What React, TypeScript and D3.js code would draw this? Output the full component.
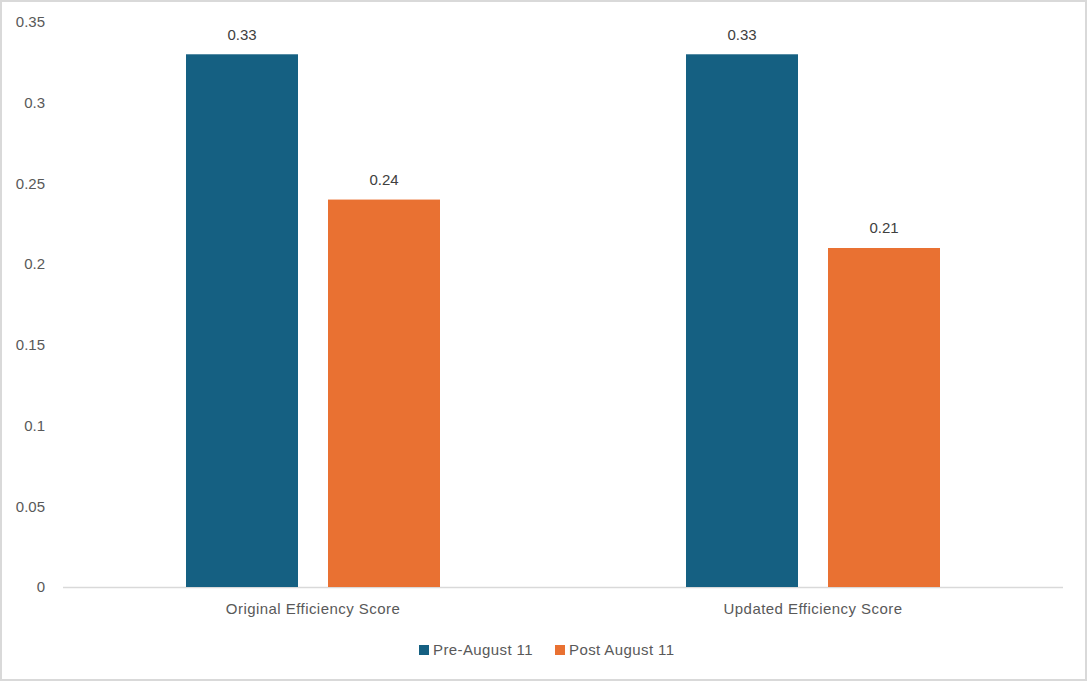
import React from "react";
import * as d3 from "d3";

const categories = ["Original Efficiency Score", "Updated Efficiency Score"];
const seriesNames = ["Pre-August 11", "Post August 11"];
const preValues = [0.33, 0.33];
const postValues = [0.24, 0.21];
const yTicks = [0, 0.05, 0.1, 0.15, 0.2, 0.25, 0.3, 0.35];
const colors = ["#156082", "#E97132"];

const W = 1088;
const H = 682;
const FONT = "'Liberation Sans', Arial, sans-serif";

export default function App() {
  const x = d3.scaleBand().domain(categories).range([63, 1063]).paddingInner(0).paddingOuter(0);
  const groupW = 254;
  const groupInset = (x.bandwidth() - groupW) / 2;
  const innerScale = d3
    .scaleBand()
    .domain(seriesNames)
    .range([groupInset, groupInset + groupW])
    .paddingInner(30 / 142)
    .paddingOuter(0);
  const y = d3.scaleLinear().domain([0, 0.35]).range([587, 22]);
  const series = [preValues, postValues];

  return (
    <svg width={W} height={H} style={{ position: "fixed", left: 0, top: 0, background: "#fff" }}>
      <rect x={1} y={1} width={W - 3} height={H - 3} fill="#fff" stroke="#d9d9d9" strokeWidth={2} />
      {yTicks.map((t) => (
        <text key={t} x={45} y={y(t)} dy="0.35em" textAnchor="end" fontFamily={FONT} fontSize={15} fill="#595959">
          {d3.format("~g")(t)}
        </text>
      ))}
      <line x1={63} x2={1063} y1={y(0) + 0.5} y2={y(0) + 0.5} stroke="#d9d9d9" strokeWidth={1.5} />
      {categories.map((c, ci) => (
        <g key={c}>
          {seriesNames.map((s, si) => {
            const v = series[si][ci];
            const bx = (x(c) as number) + (innerScale(s) as number);
            const bw = innerScale.bandwidth();
            return (
              <g key={s}>
                <rect x={bx} y={y(v)} width={bw} height={y(0) - y(v)} fill={colors[si]} />
                <text x={bx + bw / 2} y={y(v) - 20} dy="0.35em" textAnchor="middle" fontFamily={FONT} fontSize={15} fill="#404040">
                  {d3.format(".2f")(v)}
                </text>
              </g>
            );
          })}
          <text x={(x(c) as number) + x.bandwidth() / 2} y={609} dy="0.35em" textAnchor="middle" fontFamily={FONT} fontSize={15} letterSpacing={0.45} fill="#595959">
            {c}
          </text>
        </g>
      ))}
      {seriesNames.map((s, si) => {
        const lx = [419, 555][si];
        return (
          <g key={s}>
            <rect x={lx} y={645} width={10} height={10} fill={colors[si]} />
            <text x={lx + 14} y={650} dy="0.35em" fontFamily={FONT} fontSize={15} letterSpacing={0.4} fill="#595959">
              {s}
            </text>
          </g>
        );
      })}
    </svg>
  );
}
